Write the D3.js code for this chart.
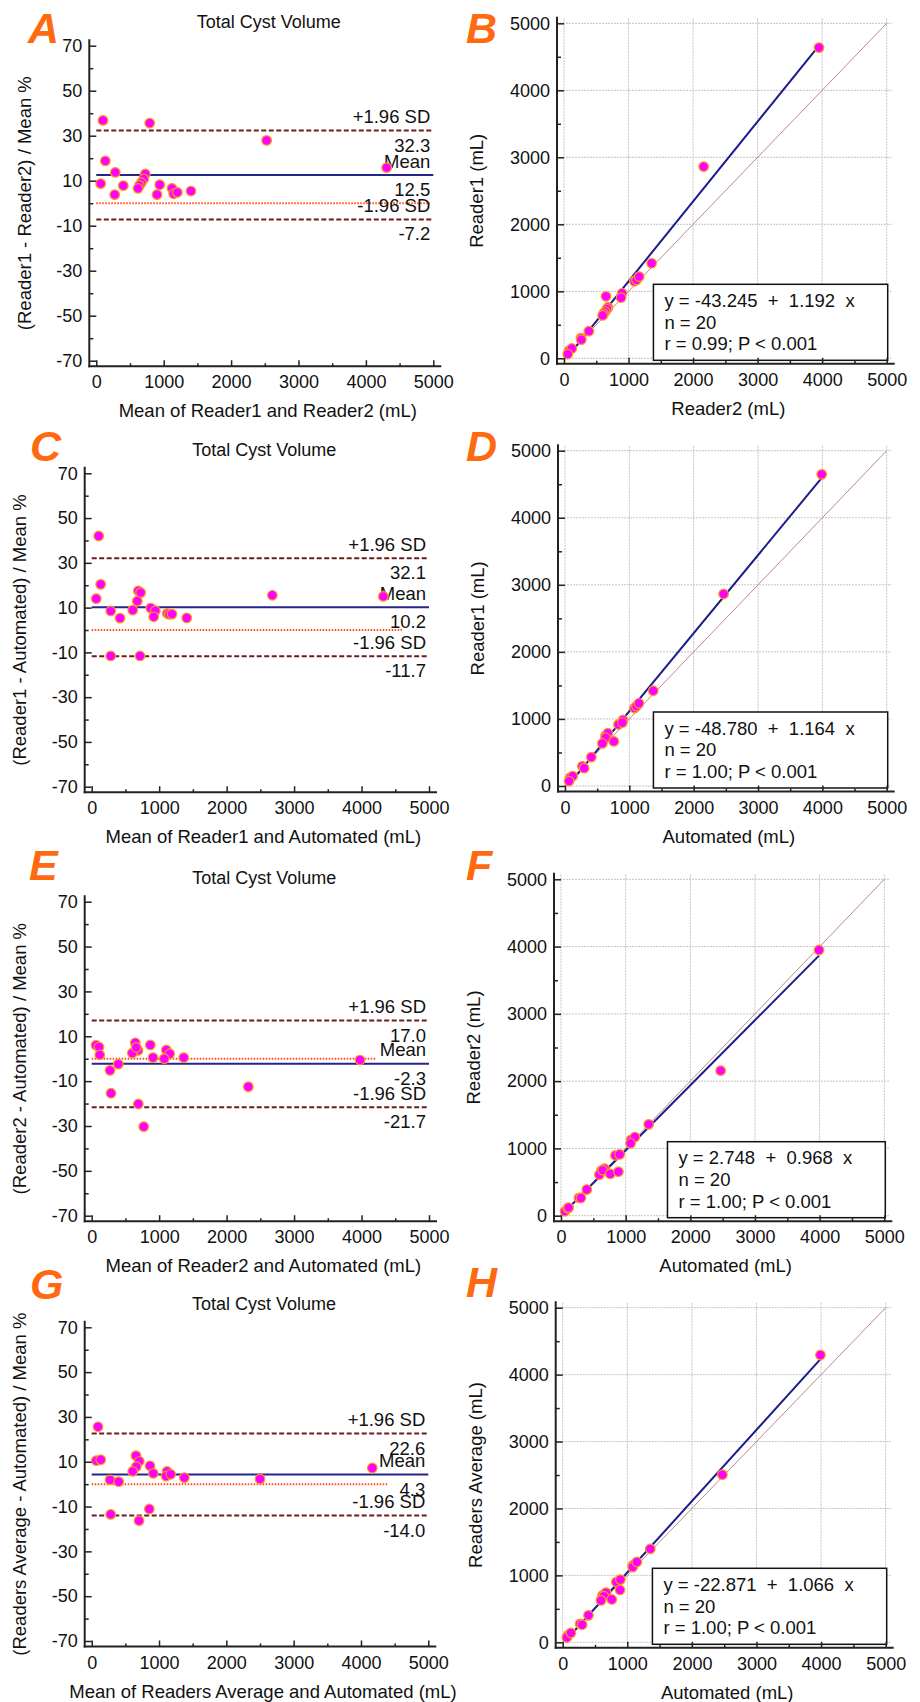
<!DOCTYPE html>
<html>
<head>
<meta charset="utf-8">
<script src="https://cdn.jsdelivr.net/npm/d3@7"></script>
<style>
body { margin: 0; background: #fff; }
svg { display: block; font-family: "Liberation Sans", Arial, sans-serif; }
</style>
</head>
<body>
<svg id="chart" width="920" height="1702"></svg>
<script>
// ---- Bland-Altman data (x = mean of the two methods in mL, y = difference / mean %) ----
var baMeanA = [99, 792, 2527, 4308, 134, 282, 65, 273, 401, 727, 703, 668, 640, 619, 941, 901, 1123, 1148, 1202, 1405];
var baDiffA = [36.8, 35.6, 27.9, 15.8, 18.8, 13.7, 8.7, 3.8, 7.8, 13.0, 10.8, 9.1, 7.9, 6.6, 8.2, 3.8, 6.6, 4.2, 4.8, 5.4];
var baMeanC = [104, 133, 68, 691, 726, 676, 282, 420, 608, 875, 943, 919, 1121, 1151, 1191, 1409, 2678, 4323, 282, 716];
var baDiffC = [42.0, 20.4, 14.0, 17.5, 16.7, 12.9, 8.5, 5.3, 8.9, 9.8, 8.6, 5.9, 7.4, 7.0, 7.1, 5.4, 15.5, 15.0, -11.6, -11.6];
var baMeanE = [64, 108, 119, 646, 686, 602, 660, 869, 909, 1106, 1156, 1076, 1364, 271, 394, 286, 691, 771, 2322, 3977];
var baDiffE = [6.0, 5.2, 1.7, 7.1, 3.7, 2.5, 5.0, 6.1, 0.5, 3.9, 2.2, 0.0, 0.5, -5.2, -2.4, -15.4, -20.2, -30.3, -12.5, -0.6];
var baMeanG = [94, 68, 134, 658, 707, 663, 609, 866, 915, 1119, 1104, 1174, 1376, 272, 401, 282, 856, 703, 2500, 4168];
var baDiffG = [25.6, 10.5, 10.9, 12.7, 10.2, 7.8, 5.7, 8.2, 4.8, 5.7, 3.6, 4.4, 2.9, 1.9, 1.1, -13.5, -11.1, -16.3, 2.3, 7.2];

// limits of agreement: [+1.96 SD, mean, -1.96 SD]
var limitsA = [32.3, 12.5, -7.2];
var limitsC = [32.1, 10.2, -11.7];
var limitsE = [17.0, -2.3, -21.7];
var limitsG = [22.6, 4.3, -14.0];
// where the dotted zero line stops (mL)
var zeroEnd = [4950, 4600, 4220, 4410];

// ---- Scatter data (mL) ----
var scXB = [81, 651, 2164, 3951, 121, 263, 58, 268, 385, 680, 665, 638, 615, 599, 900, 884, 1090, 1124, 1165, 1358];
var scYB = [117, 925, 2861, 4637, 147, 301, 62, 278, 405, 760, 735, 698, 665, 640, 970, 905, 1150, 1170, 1219, 1418];
var scXD = [82, 119, 63, 631, 665, 632, 270, 409, 581, 832, 902, 892, 1080, 1111, 1149, 1371, 2465, 3990, 298, 758];
var scYD = [126, 147, 73, 751, 787, 720, 294, 431, 635, 918, 984, 946, 1162, 1191, 1233, 1420, 2863, 4647, 266, 665];
var scXF = [62, 105, 118, 623, 673, 594, 644, 842, 907, 1084, 1143, 1076, 1356, 278, 399, 308, 761, 888, 2469, 3990];
var scYF = [66, 111, 120, 669, 699, 610, 677, 896, 911, 1128, 1169, 1076, 1358, 264, 389, 264, 621, 654, 2156, 3949];
var scXH = [82, 64, 127, 616, 671, 637, 592, 831, 893, 1087, 1084, 1148, 1356, 269, 399, 301, 887, 760, 2472, 3990];
var scYH = [106, 72, 141, 700, 743, 689, 626, 901, 937, 1151, 1124, 1200, 1396, 275, 403, 263, 782, 640, 2505, 4293];

// regression: [intercept, slope]
var regB = [-43.245, 1.192];
var regD = [-48.780, 1.164];
var regF = [2.748, 0.968];
var regH = [-22.871, 1.066];
var regText = ["y = -43.245  +  1.192  x", "y = -48.780  +  1.164  x", "y = 2.748  +  0.968  x", "y = -22.871  +  1.066  x"];
var nText = ["n = 20", "n = 20", "n = 20", "n = 20"];
var rText = ["r = 0.99; P < 0.001", "r = 1.00; P < 0.001", "r = 1.00; P < 0.001", "r = 1.00; P < 0.001"];

// ---- tick labels ----
var baYMajor = [70, 50, 30, 10, -10, -30, -50, -70];
var baYMinor = [60, 40, 20, 0, -20, -40, -60];
var volMajor = [0, 1000, 2000, 3000, 4000, 5000];
var volMinor = [500, 1500, 2500, 3500, 4500];

var baXTitles = ["Mean of Reader1 and Reader2 (mL)", "Mean of Reader1 and Automated (mL)",
    "Mean of Reader2 and Automated (mL)", "Mean of Readers Average and Automated (mL)"];
var baYTitles = ["(Reader1 - Reader2) / Mean %", "(Reader1 - Automated) / Mean %",
    "(Reader2 - Automated) / Mean %", "(Readers Average - Automated) / Mean %"];
var scXTitles = ["Reader2 (mL)", "Automated (mL)", "Automated (mL)", "Automated (mL)"];
var scYTitles = ["Reader1 (mL)", "Reader1 (mL)", "Reader2 (mL)", "Readers Average (mL)"];

// ---- layout (pixel frames of each panel) ----
var leftFrames = [
    { x0: 96.3, x1: 433.3, yTop: 45.7, yBot: 360.7, lx: 28, ly: 43, letter: "A" },
    { x0: 91.7, x1: 429, yTop: 473.3, yBot: 786.7, lx: 30, ly: 461, letter: "C" },
    { x0: 91.7, x1: 429, yTop: 901.7, yBot: 1215.7, lx: 29, ly: 880, letter: "E" },
    { x0: 91.7, x1: 428.3, yTop: 1327.3, yBot: 1641, lx: 30, ly: 1299, letter: "G" }
];
var rightFrames = [
    { x0: 564, x1: 886.7, yTop: 23.3, yBot: 358.3, lx: 466, ly: 43, letter: "B" },
    { x0: 565, x1: 886.7, yTop: 450.7, yBot: 786, lx: 466, ly: 461, letter: "D" },
    { x0: 561, x1: 884.3, yTop: 879.3, yBot: 1215.7, lx: 466, ly: 880, letter: "F" },
    { x0: 562.7, x1: 885.7, yTop: 1307.7, yBot: 1642.3, lx: 466, ly: 1297, letter: "H" }
];

var svg = d3.select("#chart");
var fontFam = "'Liberation Sans', Arial, sans-serif";
var axisColor = "#222";
var dotFill = "#ff00ff", dotStroke = "#ff9a1a";
var plainNum = function(d) { return String(d); };

function styleAxis(a) {
    a.attr("font-family", null).attr("font-size", null);
    a.select(".domain").remove();
    a.selectAll("line").attr("stroke", axisColor).attr("stroke-width", 1.5);
    a.selectAll("text").style("font-size", "18px").style("font-family", fontFam).attr("fill", "#111");
}

function drawAxes(g, L, x, y, yMajor, yMinor) {
    var axX = L.x0 - 7, axY = L.yBot + 5.5;
    g.append("g").attr("transform", "translate(" + axX + ",0)")
        .call(d3.axisLeft(y).tickValues(yMinor).tickSizeInner(-4).tickSizeOuter(0).tickFormat(""))
        .call(styleAxis);
    g.append("g").attr("transform", "translate(" + axX + ",0)")
        .call(d3.axisLeft(y).tickValues(yMajor).tickSizeInner(-7).tickSizeOuter(0).tickPadding(7).tickFormat(plainNum))
        .call(styleAxis);
    g.append("g").attr("transform", "translate(0," + axY + ")")
        .call(d3.axisBottom(x).tickValues(volMinor).tickSizeInner(-3).tickSizeOuter(0).tickFormat(""))
        .call(styleAxis);
    g.append("g").attr("transform", "translate(0," + axY + ")")
        .call(d3.axisBottom(x).tickValues(volMajor).tickSizeInner(-6).tickSizeOuter(0).tickPadding(9.5).tickFormat(plainNum))
        .call(styleAxis);
    g.append("line").attr("x1", axX).attr("x2", axX).attr("y1", L.yTop - 6.5).attr("y2", axY + 1)
        .attr("stroke", axisColor).attr("stroke-width", 2);
    g.append("line").attr("x1", axX - 1).attr("x2", L.x1 + 8).attr("y1", axY).attr("y2", axY)
        .attr("stroke", axisColor).attr("stroke-width", 2);
}

function drawLetter(L) {
    svg.append("text").attr("x", L.lx).attr("y", L.ly)
        .style("font-size", "43px").style("font-weight", "bold").style("font-style", "italic")
        .attr("fill", "#ff6a10").text(L.letter);
}

function drawTitles(g, L, xTitle, yTitle, yOff) {
    var axX = L.x0 - 7, axY = L.yBot + 5.5;
    g.append("text").attr("x", (L.x0 + L.x1) / 2 + 3).attr("y", axY + 51)
        .attr("text-anchor", "middle").style("font-size", "18.5px").attr("fill", "#111").text(xTitle);
    g.append("text")
        .attr("transform", "translate(" + (axX - yOff) + "," + (L.yTop + L.yBot) / 2 + ") rotate(-90)")
        .attr("dy", "0.35em").attr("text-anchor", "middle").style("font-size", "18.5px").attr("fill", "#111")
        .text(yTitle);
}

function drawBA(L, means, diffs, lim, zEnd, xTitle, yTitle) {
    var x = d3.scaleLinear().domain([0, 5000]).range([L.x0, L.x1]);
    var y = d3.scaleLinear().domain([70, -70]).range([L.yTop, L.yBot]);
    var g = svg.append("g");

    g.append("text").attr("x", (L.x0 + L.x1) / 2 + 4).attr("y", L.yTop - 17.5)
        .attr("text-anchor", "middle").style("font-size", "18px").attr("fill", "#111").text("Total Cyst Volume");

    // zero reference
    g.append("line").attr("x1", x(0)).attr("x2", x(zEnd)).attr("y1", y(0)).attr("y2", y(0))
        .attr("stroke", "#ff4a1c").attr("stroke-width", 2).attr("stroke-dasharray", "1.5,1.5");
    // limits of agreement
    [lim[0], lim[2]].forEach(function(v) {
        g.append("line").attr("x1", x(0)).attr("x2", x(5000)).attr("y1", y(v)).attr("y2", y(v))
            .attr("stroke", "#6b1c1c").attr("stroke-width", 2).attr("stroke-dasharray", "5,2.5");
    });
    g.append("line").attr("x1", x(0)).attr("x2", x(5000)).attr("y1", y(lim[1])).attr("y2", y(lim[1]))
        .attr("stroke", "#25258c").attr("stroke-width", 2);

    var names = ["+1.96 SD", "Mean", "-1.96 SD"];
    lim.forEach(function(v, i) {
        g.append("text").attr("x", x(5000) - 3).attr("y", y(v) - 7.5).attr("text-anchor", "end")
            .style("font-size", "18.5px").attr("fill", "#111").text(names[i]);
        g.append("text").attr("x", x(5000) - 3).attr("y", y(v) + 21).attr("text-anchor", "end")
            .style("font-size", "18.5px").attr("fill", "#111").text(v.toFixed(1));
    });

    g.selectAll("circle.pt").data(means).enter().append("circle").attr("class", "pt")
        .attr("cx", function(d) { return x(d); })
        .attr("cy", function(d, i) { return y(diffs[i]); })
        .attr("r", 4.8).attr("fill", dotFill).attr("stroke", dotStroke).attr("stroke-width", 1.2);

    drawAxes(g, L, x, y, baYMajor, baYMinor);
    drawTitles(g, L, xTitle, yTitle, 65);
    drawLetter(L);
}

function drawScatter(L, xs, ys, reg, lines, xTitle, yTitle) {
    var x = d3.scaleLinear().domain([0, 5000]).range([L.x0, L.x1]);
    var y = d3.scaleLinear().domain([0, 5000]).range([L.yBot, L.yTop]);
    var axX = L.x0 - 7, axY = L.yBot + 5.5;
    var g = svg.append("g");

    // grid
    volMajor.forEach(function(v) {
        g.append("line").attr("x1", x(v)).attr("x2", x(v)).attr("y1", L.yTop - 5).attr("y2", axY)
            .attr("stroke", "#c4c4c4").attr("stroke-width", 1).attr("stroke-dasharray", "2,1");
        g.append("line").attr("x1", axX).attr("x2", L.x1 + 5).attr("y1", y(v)).attr("y2", y(v))
            .attr("stroke", "#c4c4c4").attr("stroke-width", 1).attr("stroke-dasharray", "2,1");
    });

    // line of identity
    g.append("line").attr("x1", x(0)).attr("y1", y(0)).attr("x2", x(5000)).attr("y2", y(5000))
        .attr("stroke", "#c08888").attr("stroke-width", 1);

    // regression line
    var ext = d3.extent(xs);
    g.append("line").attr("x1", x(ext[0])).attr("y1", y(reg[0] + reg[1] * ext[0]))
        .attr("x2", x(ext[1])).attr("y2", y(reg[0] + reg[1] * ext[1]))
        .attr("stroke", "#1c1c8a").attr("stroke-width", 2);

    g.selectAll("circle.pt").data(xs).enter().append("circle").attr("class", "pt")
        .attr("cx", function(d) { return x(d); })
        .attr("cy", function(d, i) { return y(ys[i]); })
        .attr("r", 4.8).attr("fill", dotFill).attr("stroke", dotStroke).attr("stroke-width", 1.2);

    // statistics box
    var box = g.append("g");
    var rect = box.append("rect");
    var texts = lines.map(function(t, i) {
        return box.append("text").style("font-size", "18.5px").style("white-space", "pre")
            .attr("fill", "#111").attr("y", 22.7 + i * 21.7).text(t);
    });
    var w = d3.max(texts, function(t) { return t.node().getComputedTextLength(); }) + 44;
    var bx = L.x1 + 1 - w, by = L.yBot + 2 - 76;
    rect.attr("x", 0).attr("y", 0).attr("width", w).attr("height", 76)
        .attr("fill", "#fff").attr("stroke", "#111").attr("stroke-width", 1.5);
    texts.forEach(function(t) { t.attr("x", 11); });
    box.attr("transform", "translate(" + bx + "," + by + ")");

    drawAxes(g, L, x, y, volMajor, volMinor);
    drawTitles(g, L, xTitle, yTitle, 80);
    drawLetter(L);
}

drawBA(leftFrames[0], baMeanA, baDiffA, limitsA, zeroEnd[0], baXTitles[0], baYTitles[0]);
drawBA(leftFrames[1], baMeanC, baDiffC, limitsC, zeroEnd[1], baXTitles[1], baYTitles[1]);
drawBA(leftFrames[2], baMeanE, baDiffE, limitsE, zeroEnd[2], baXTitles[2], baYTitles[2]);
drawBA(leftFrames[3], baMeanG, baDiffG, limitsG, zeroEnd[3], baXTitles[3], baYTitles[3]);

drawScatter(rightFrames[0], scXB, scYB, regB, [regText[0], nText[0], rText[0]], scXTitles[0], scYTitles[0]);
drawScatter(rightFrames[1], scXD, scYD, regD, [regText[1], nText[1], rText[1]], scXTitles[1], scYTitles[1]);
drawScatter(rightFrames[2], scXF, scYF, regF, [regText[2], nText[2], rText[2]], scXTitles[2], scYTitles[2]);
drawScatter(rightFrames[3], scXH, scYH, regH, [regText[3], nText[3], rText[3]], scXTitles[3], scYTitles[3]);
</script>
</body>
</html>
